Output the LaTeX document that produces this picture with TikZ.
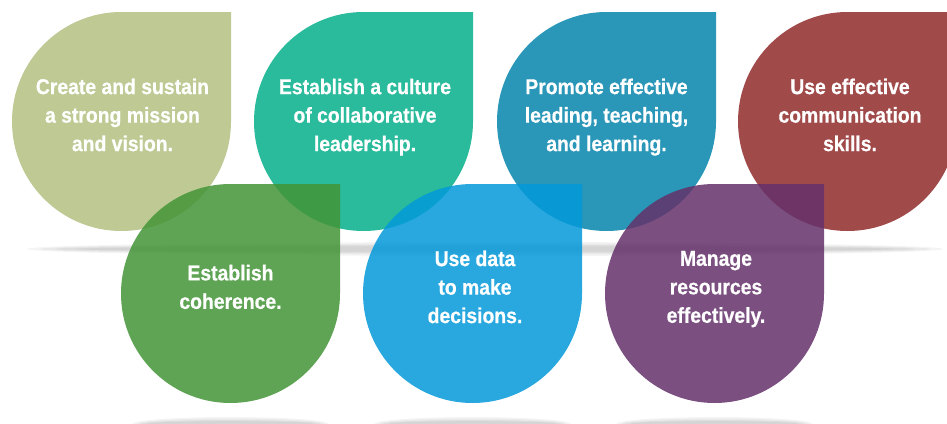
\documentclass[tikz,border=0pt]{standalone}
\usepackage{fontspec}
\setmainfont{Liberation Sans}[FakeStretch=0.9, FakeBold=0.6]
\definecolor{petalOlive}{RGB}{190,201,148}
\definecolor{petalTeal}{RGB}{41,187,155}
\definecolor{petalSea}{RGB}{42,150,184}
\definecolor{petalBrick}{RGB}{161,74,74}
\definecolor{petalGreen}{RGB}{67,149,55}
\definecolor{petalSky}{RGB}{3,153,218}
\definecolor{petalPlum}{RGB}{100,49,106}
% a drop: circle of radius 109.5 with a square top-right corner
% #1 left edge, #2 top edge (measured downwards), #3 colour, #4 opacity
\newcommand\petal[4]{%
  \fill[#3,opacity=#4] (#1+219,-#2) -- (#1+219,-#2-109.5)
    arc[start angle=0, end angle=-270, radius=109.5] -- cycle;}
\begin{document}
\begin{tikzpicture}[x=1pt,y=1pt,
  lbl/.style={text=white, font=\bfseries\fontsize{21.5}{28.5}\selectfont,
              align=center, inner sep=0pt},
  shadowpart/.style={fill=black, opacity=0.045}]
\useasboundingbox (0,0) rectangle (947,-423);
\clip (0,0) rectangle (947,-423);
\fill[white] (0,0) rectangle (947,-423);

% soft floor shadows
\foreach \rx/\ry in {458/7,445/5.5,430/4,410/2.8}
  \fill[shadowpart] (485,-249) ellipse[x radius=\rx, y radius=\ry];
\foreach \cx in {230.5,472.5,714.5}
  \foreach \rx/\ry in {98/7,94/5.5,90/4,85/2.8}
    \fill[shadowpart] (\cx,-424) ellipse[x radius=\rx, y radius=\ry];

% upper row
\petal{12}{12}{petalOlive}{1}
\petal{254}{12}{petalTeal}{1}
\petal{497}{12}{petalSea}{1}
\petal{738}{12}{petalBrick}{1}

% lower row, slightly see-through
\petal{121}{184}{petalGreen}{0.85}
\petal{363}{184}{petalSky}{0.85}
\petal{605}{184}{petalPlum}{0.85}

% labels
\node[lbl] (mission) at (122.5,-114.9) {Create and sustain\\a strong mission\\and vision.};
\node[lbl] (culture) at (365,-117.1) {Establish a culture\\of collaborative\\leadership.};
\node[lbl] (teaching) at (606.5,-117.1) {Promote effective\\leading, teaching,\\and learning.};
\node[lbl] (communication) at (850,-114.9) {Use effective\\communication\\skills.};
\node[lbl] (coherence) at (230.5,-286.9) {Establish\\coherence.};
\node[lbl] (data) at (475,-286.9) {Use data\\to make\\decisions.};
\node[lbl] (resources) at (716,-289.1) {Manage\\resources\\effectively.};
\end{tikzpicture}
\end{document}
